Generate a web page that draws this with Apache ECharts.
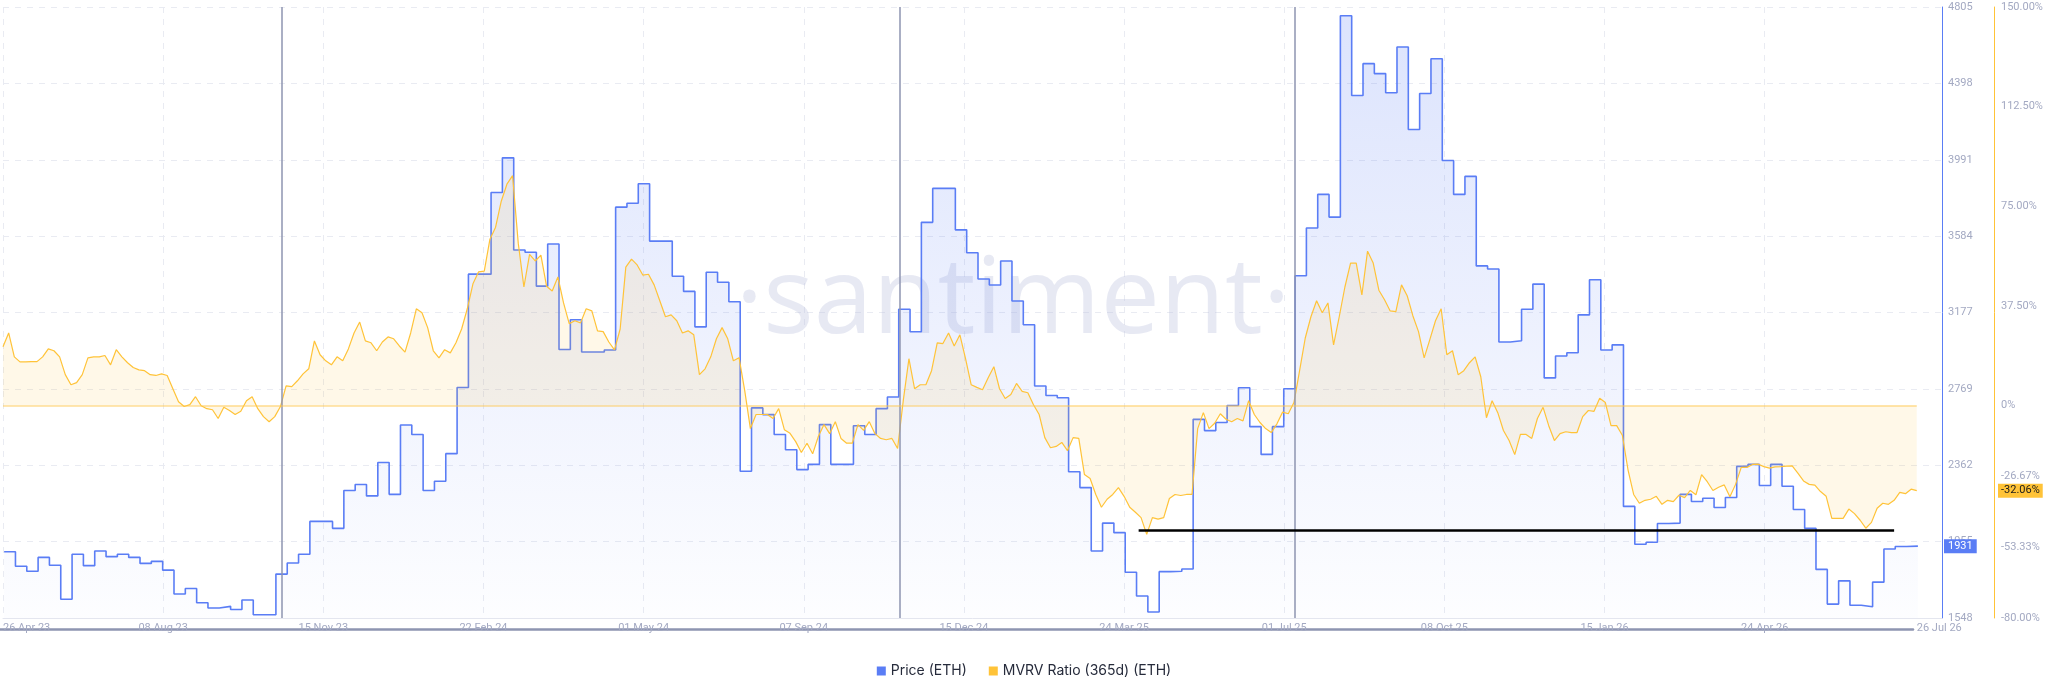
<!DOCTYPE html>
<html>
<head>
<meta charset="utf-8">
<script src="https://cdn.jsdelivr.net/npm/echarts@6/dist/echarts.min.js"></script>
<style>
html,body{margin:0;padding:0;background:#fff;}
#c{width:2048px;height:693px;}
</style>
</head>
<body>
<div id="c"></div>
<script>
// ---- DATA ----
// x-axis tick labels and their positions (days from start)
const tickLabels = ['26 Apr 23','08 Aug 23','15 Nov 23','22 Feb 24','01 May 24','07 Sep 24','15 Dec 24','24 Mar 25','01 Jul 25','08 Oct 25','15 Jan 26','24 Apr 26','26 Jul 26'];
const tickDays = [0,99,198,297,396,495,594,693,792,891,990,1089,1183];
const axisEndDay = 1198.6;

// weekly price (ETH), one value per week starting day 0.7
const priceStartDay = 0.7;
const priceStepDays = 7;
const price = [
 1901,1824,1797,1871,1829,1648,1888,1827,1905,1875,
 1888,1871,1839,1850,1803,1676,1705,1629,1601,1610,
 1593,1644,1565,1565,1782,1841,1888,2063,2063,2026,
 2228,2260,2199,2377,2207,2577,2526,2228,2277,2424,
 2777,3381,3381,3816,4001,3510,3498,3317,3542,2979,
 3138,2966,2966,2977,3738,3759,3863,3557,3557,3370,
 3289,3100,3391,3338,3234,2330,2668,2632,2526,2445,
 2339,2367,2579,2367,2367,2573,2526,2664,2726,3194,
 3074,3657,3838,3838,3617,3495,3355,3323,3451,3238,
 3111,2785,2734,2722,2328,2243,1905,2054,2003,1792,
 1665,1580,1795,1797,1809,2607,2547,2590,2681,2775,
 2568,2420,2568,2770,3372,3627,3806,3685,4758,4333,
 4503,4450,4348,4592,4152,4344,4529,3987,3806,3902,
 3425,3408,3019,3026,3194,3328,2828,2945,2962,3164,
 3351,2977,3004,2143,1941,1952,2052,2054,2207,2169,
 2186,2137,2190,2356,2367,2254,2367,2250,2126,2026,
 1807,1622,1746,1616,1608,1739,1916,1929,1931,1931
];

// MVRV ratio (365d) in %, one value every 3.5 days from day 0
const mvrvStepDays = 3.5;
const mvrv = [
 22.1,27.3,18.3,16.4,16.4,16.5,16.5,18.3,21.3,20.6,
 18.3,11.6,7.8,8.6,11.6,17.9,18.3,18.3,18.8,15.3,
 21.0,18.3,16.1,14.3,13.4,13.1,11.6,11.3,11.9,11.3,
 6.3,1.4,-0.4,0.3,3.3,-0.1,-1.2,-1.6,-4.9,-0.7,
 -1.9,-3.4,-2.2,1.8,3.3,-1.2,-4.2,-6.1,-4.2,-0.4,
 7.4,7.1,9.3,11.9,13.8,24.3,19.1,16.8,15.3,18.3,
 16.8,21.3,27.3,31.4,24.3,23.6,20.6,23.9,25.8,25.1,
 22.4,20.1,27.3,36.4,34.9,29.3,20.6,17.9,21.0,19.8,
 23.6,28.8,36.4,45.8,50.3,50.6,62.6,67.1,76.9,83.3,
 86.5,61.1,44.6,56.9,54.4,56.6,44.9,43.1,48.4,38.6,
 30.8,31.9,31.1,36.4,35.6,28.1,27.8,23.9,20.9,28.8,
 52.1,55.1,52.9,49.1,49.4,45.4,39.4,33.4,34.1,31.9,
 27.3,28.1,26.6,11.6,13.8,18.3,25.1,29.3,25.1,16.8,
 18.0,5.6,-8.7,-3.4,-3.4,-3.4,-4.9,-1.2,-9.1,-10.5,
 -13.6,-17.7,-14.2,-18.2,-11.7,-7.2,-10.6,-6.1,-12.4,-14.2,
 -14.2,-7.2,-9.4,-6.1,-10.6,-12.4,-12.9,-12.4,-16.2,1.8,
 17.6,6.3,7.8,7.8,13.1,23.6,23.3,27.3,22.4,26.6,
 17.6,7.8,6.8,5.9,10.4,14.6,6.3,2.6,4.1,8.3,
 5.3,4.8,0.3,-3.4,-12.1,-15.9,-15.4,-13.9,-17.0,-12.1,
 -12.4,-26.0,-27.5,-33.5,-38.3,-35.3,-33.5,-30.9,-34.2,-38.3,
 -40.2,-42.2,-48.5,-42.2,-42.8,-42.2,-35.0,-33.5,-33.9,-33.5,
 -33.5,-8.7,-2.7,-8.7,-6.7,-3.1,-5.2,-6.1,-4.9,-5.8,
 1.8,-3.4,-6.4,-8.7,-10.2,-6.9,-2.5,-3.1,1.1,13.1,
 25.4,33.4,39.4,34.9,38.6,22.8,33.4,44.6,53.6,53.6,
 41.6,58.1,53.6,43.4,39.8,35.6,35.3,45.4,41.3,33.8,
 27.8,17.9,24.8,31.9,36.4,19.1,20.6,11.6,13.1,16.1,
 18.3,10.8,-4.6,1.8,-2.7,-9.4,-13.2,-18.5,-10.9,-10.9,
 -12.4,-4.9,-0.7,-7.6,-13.2,-10.6,-9.9,-10.2,-10.2,-4.2,
 -1.9,-2.2,2.7,1.1,-7.6,-7.6,-11.2,-24.2,-33.5,-36.8,
 -35.7,-35.3,-34.2,-37.2,-35.7,-36.2,-33.8,-34.7,-32.0,-33.6,
 -26.0,-28.7,-32.0,-30.8,-29.9,-34.4,-29.7,-23.3,-23.3,-22.2,
 -22.1,-23.0,-23.6,-23.1,-23.0,-22.8,-22.7,-25.5,-28.4,-29.7,
 -30.0,-32.4,-34.2,-42.5,-42.5,-42.5,-39.0,-40.7,-43.2,-46.2,
 -44.0,-38.7,-36.8,-37.2,-35.7,-32.7,-33.2,-31.5,-32.06
];

// axes ticks
const priceMin = 1548, priceMax = 4805;
const priceTicks = [1548,1955.125,2362.25,2769.375,3176.5,3583.625,3990.75,4397.875,4805];
const mvrvMin = -80, mvrvMax = 150;
const mvrvTicks = [-80,-53.333,-26.667,0,37.5,75,112.5,150];

// annotations
const eventDays = [172.5, 554.3, 798.6];
const supportLevel = -47;
const supportFromDay = 702, supportToDay = 1169;

// ---- CHART ----
const BLUE = '#5A7DF5';
const YELLOW = '#FFC338';
const LABEL = '#A3A9C2';

const priceData = price.map((v, k) => [priceStartDay + priceStepDays * k, v]);
const mvrvData = mvrv.map((v, j) => [mvrvStepDays * j, v]);
const lastDay = mvrvData[mvrvData.length - 1][0];
const lastPrice = price[price.length - 1];
const lastMvrv = mvrv[mvrv.length - 1];

function labelFor(v) {
  let best = 0, bd = Infinity;
  tickDays.forEach((d, i) => { const dd = Math.abs(d - v); if (dd < bd) { bd = dd; best = i; } });
  return tickLabels[best];
}

const chart = echarts.init(document.getElementById('c'), null, {renderer: 'canvas'});
chart.setOption({
  animation: false,
  backgroundColor: '#ffffff',
  textStyle: {fontFamily: 'Roboto'},
  grid: [
    {left: 0, right: 106, top: 7, bottom: 75, containLabel: false},
    {left: 0, right: 135, top: 628, height: 1, containLabel: false}
  ],
  legend: {
    data: ['Price (ETH)', 'MVRV Ratio (365d) (ETH)'],
    top: 659, left: 'center',
    icon: 'rect', itemWidth: 9, itemHeight: 9, itemGap: 22,
    textStyle: {fontFamily: 'Inter', fontSize: 14, color: '#262B3B'}
  },
  graphic: [{
    type: 'text', z: 1, silent: true,
    style: {
      text: '·santiment·', x: 1013, y: 303,
      textAlign: 'center', textVerticalAlign: 'middle',
      font: 'normal 106px "Open Sans"', fill: 'rgba(188,193,222,0.36)'
    }
  }],
  xAxis: [
    {
      type: 'value', gridIndex: 0, min: 0, max: axisEndDay,
      axisLine: {show: true, onZero: false, lineStyle: {color: '#E4E6EF', width: 1}},
      axisTick: {show: false, customValues: tickDays.slice(0, 12)},
      splitLine: {show: true, lineStyle: {color: '#E9EBF2', type: [6, 6], width: 1}},
      axisLabel: {
        customValues: tickDays, formatter: labelFor,
        color: LABEL, fontSize: 11, margin: 5,
        alignMinLabel: 'left', alignMaxLabel: 'left'
      }
    },
    {
      type: 'value', gridIndex: 1, min: 0, max: 1,
      axisLine: {show: true, onZero: false, lineStyle: {color: '#8E95B1', width: 2.5}},
      axisTick: {show: false}, splitLine: {show: false}, axisLabel: {show: false}
    }
  ],
  yAxis: [
    {
      type: 'value', gridIndex: 0, position: 'right', min: priceMin, max: priceMax,
      axisLine: {show: true, onZero: false, lineStyle: {color: BLUE, width: 1}},
      axisTick: {show: false, customValues: priceTicks},
      splitLine: {show: true, lineStyle: {color: '#E9EBF2', type: [6, 6], width: 1}},
      axisLabel: {customValues: priceTicks, formatter: v => String(Math.round(v)), color: LABEL, fontSize: 11, margin: 6}
    },
    {
      type: 'value', gridIndex: 0, position: 'right', offset: 52, min: mvrvMin, max: mvrvMax,
      axisLine: {show: true, onZero: false, lineStyle: {color: YELLOW, width: 1}},
      axisTick: {show: false, customValues: mvrvTicks},
      splitLine: {show: false},
      axisLabel: {customValues: mvrvTicks, formatter: v => v === 0 ? '0%' : v.toFixed(2) + '%', color: LABEL, fontSize: 11, margin: 7}
    },
    {
      type: 'value', gridIndex: 0, position: 'right', min: priceMin, max: priceMax, z: 10,
      axisLine: {show: false, onZero: false}, axisTick: {show: false}, splitLine: {show: false},
      axisLabel: {customValues: [lastPrice], formatter: v => String(Math.round(v)), color: '#fff', fontSize: 11,
        backgroundColor: BLUE, padding: [2, 4, 1, 4], margin: 2}
    },
    {
      type: 'value', gridIndex: 0, position: 'right', offset: 52, min: mvrvMin, max: mvrvMax, z: 10,
      axisLine: {show: false, onZero: false}, axisTick: {show: false}, splitLine: {show: false},
      axisLabel: {customValues: [lastMvrv], formatter: v => v.toFixed(2) + '%', color: '#1a1a1a', fontSize: 11,
        backgroundColor: YELLOW, padding: [2, 3, 1, 3], margin: 4}
    },
    {type: 'value', gridIndex: 1, show: false, axisLine: {onZero: false}}
  ],
  series: [
    {
      name: 'Price (ETH)', type: 'line', xAxisIndex: 0, yAxisIndex: 0,
      data: priceData, step: 'end', showSymbol: false, symbol: 'none',
      color: BLUE,
      lineStyle: {color: BLUE, width: 1.6},
      areaStyle: {
        origin: 'start',
        color: {type: 'linear', x: 0, y: 0, x2: 0, y2: 1, colorStops: [
          {offset: 0, color: 'rgba(90,125,245,0.30)'},
          {offset: 1, color: 'rgba(90,125,245,0.02)'}
        ]}
      },
      z: 2,
      markLine: {
        silent: true, symbol: 'none', label: {show: false},
        lineStyle: {color: '#8E94B1', width: 1.5, type: 'solid'},
        data: eventDays.map(d => ({xAxis: d}))
      }
    },
    {
      name: 'MVRV Ratio (365d) (ETH)', type: 'line', xAxisIndex: 0, yAxisIndex: 1,
      data: mvrvData, showSymbol: false, symbol: 'none',
      color: YELLOW,
      lineStyle: {color: YELLOW, width: 1.2},
      areaStyle: {color: 'rgba(255,196,60,0.17)'},
      z: 3,
      markLine: {
        silent: true, symbol: 'none', label: {show: false},
        data: [
          [{coord: [0, 0], lineStyle: {color: 'rgba(255,200,80,0.45)', width: 2, type: 'solid'}}, {coord: [lastDay, 0]}],
          [{coord: [supportFromDay, supportLevel], lineStyle: {color: '#000000', width: 2.5, type: 'solid'}}, {coord: [supportToDay, supportLevel]}]
        ]
      }
    }
  ]
});
</script>
</body>
</html>
